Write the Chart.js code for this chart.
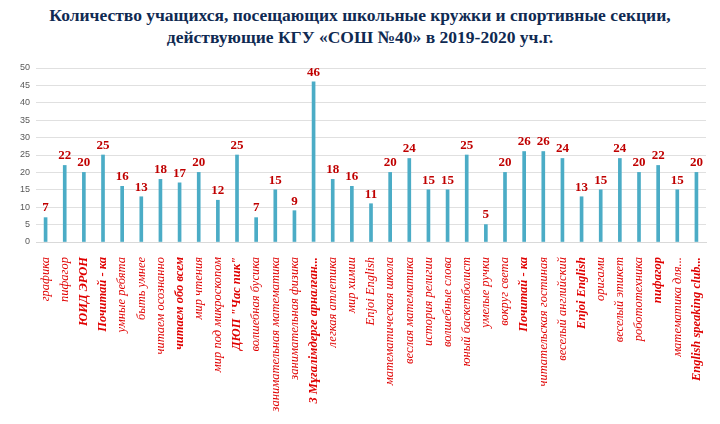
<!DOCTYPE html><html><head><meta charset="utf-8">
<script src="https://cdn.jsdelivr.net/npm/chart.js@4"></script>
<style>body{margin:0;background:#fff}#w{width:720px;height:424px;position:relative}
h1{margin:0;position:absolute;top:4px;left:0;width:720px;text-align:center;font:bold 17.5px "Liberation Serif";color:#0f2a52;line-height:22px}
#c{position:absolute;top:52px;left:0}</style></head><body><div id="w">
<h1>Количество учащихся, посещающих школьные кружки и спортивные секции,<br>действующие КГУ «СОШ №40» в 2019-2020 уч.г.</h1>
<canvas id="c" width="720" height="372"></canvas></div>
<script>
const categories=["графика","пифагор","ЮИД ЭРОН","Почитай - ка","умные ребята","быть умнее","читаем осознанно","читаем обо всем","мир чтения","мир под микроскопом","ДЮП \"Час пик\"","волшебная бусика","занимательная математика","занимательная физика","3 Мұғалімдерге арналған...","легкая атлетика","мир химии","Enjoi English","математическая школа","веслая математика","история религии","волшебные слова","юный баскетболист","умелые ручки","вокруг света","Почитай - ка","читательская гостиная","веселый английский","Enjoi English","оригами","веселый этикет","робототехника","пифагор","математика для...","English speaking club..."];
const values=[7,22,20,25,16,13,18,17,20,12,25,7,15,9,46,18,16,11,20,24,15,15,25,5,20,26,26,24,13,15,24,20,22,15,20];
const boldIdx=[2,3,7,10,14,25,28,32,34];
const yTicks=[0,5,10,15,20,25,30,35,40,45,50];
const lbl={id:'lbl',afterDatasetsDraw(ch){const c=ch.ctx;c.save();c.font='bold 13px "Liberation Serif"';c.fillStyle='#c00000';c.textAlign='center';c.textBaseline='bottom';
ch.getDatasetMeta(0).data.forEach((b,i)=>c.fillText(values[i],b.x,b.y-3));c.restore();}};
new Chart(document.getElementById('c'),{type:'bar',data:{labels:categories,datasets:[{data:values,backgroundColor:'#4bacc6',barThickness:3}]},
options:{responsive:false,animation:false,layout:{padding:{left:14,right:14,top:16,bottom:8}},plugins:{legend:{display:false},tooltip:{enabled:false}},
scales:{y:{min:0,max:50,afterBuildTicks:a=>{a.ticks=yTicks.map(v=>({value:v}))},ticks:{font:{size:9,family:'Liberation Sans'},color:'#595959',padding:6},grid:{color:'#e0e0e0',drawTicks:false},border:{display:false}},
x:{grid:{display:false},border:{color:'#d9d9d9'},ticks:{autoSkip:false,minRotation:90,maxRotation:90,color:'#e00000',padding:7,font:c=>({family:'Liberation Serif',size:12.5,style:'italic',weight:boldIdx.includes(c.index)?'bold':'normal'})}}}},plugins:[lbl]});
</script></body></html>
